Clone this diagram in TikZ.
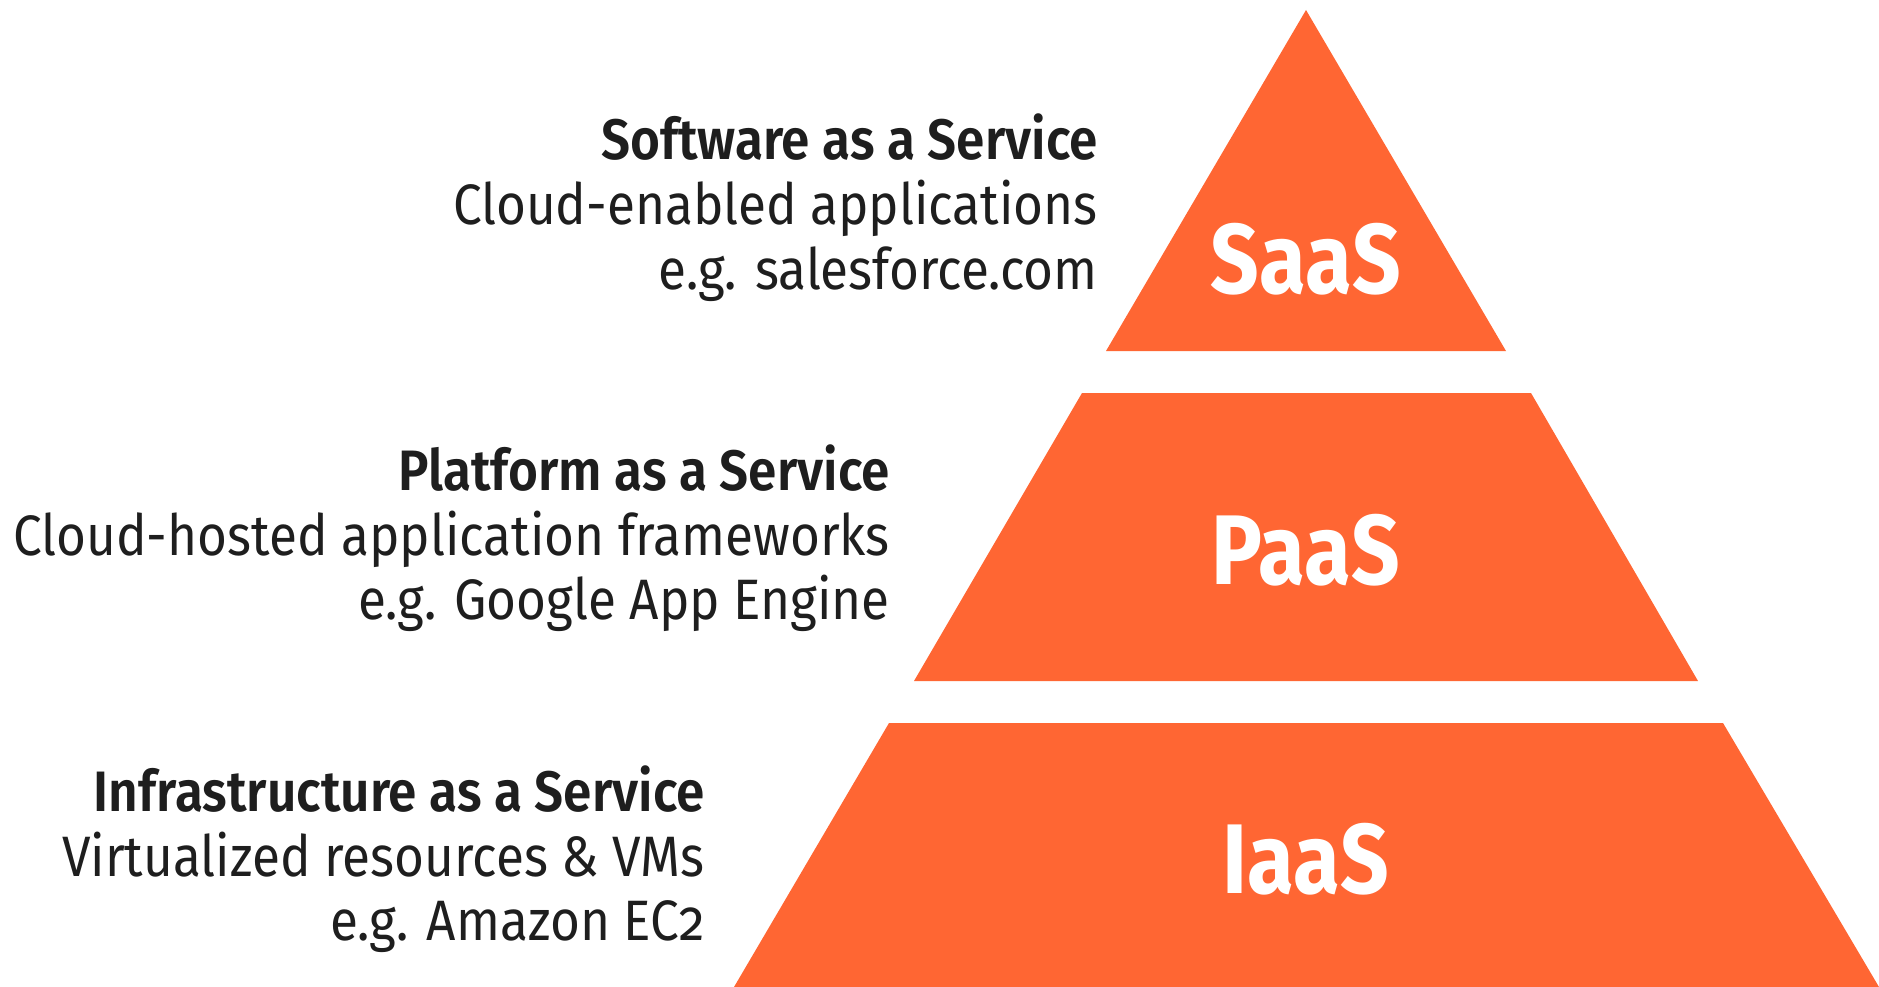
\documentclass[tikz,border=0pt]{standalone}
\usepackage{fontspec}
\setmainfont{Fira Sans}[Numbers=OldStyle, FakeStretch=0.90, BoldFont={Fira Sans SemiBold}]
\newfontfamily\tierfont{Fira Sans}[FakeStretch=0.86]
\definecolor{tierfill}{HTML}{FF6633}
\definecolor{inkdark}{HTML}{1E1E1E}
\tikzset{
  tier/.style={fill=tierfill, draw=none},
  tierlabel/.style={text=white, font=\tierfont\fontsize{99}{99}\selectfont\bfseries, anchor=base, inner sep=0pt},
  headline/.style={text=inkdark, font=\fontsize{57}{64}\selectfont\bfseries, anchor=base east, inner sep=0pt},
  bodyline/.style={text=inkdark, font=\fontsize{57}{64}\selectfont, anchor=base east, inner sep=0pt},
}
\begin{document}
\begin{tikzpicture}[x=1pt, y=-1pt]
\useasboundingbox (0,0) rectangle (1879,987);

% pyramid tiers
\fill[tier] (1306,10) -- (1506,351) -- (1106,351) -- cycle;
\fill[tier] (1082,393) -- (1531,393) -- (1698,681) -- (914,681) -- cycle;
\fill[tier] (889,723) -- (1723,723) -- (1879,987) -- (734,987) -- cycle;

% tier labels
\node[tierlabel] (saas) at (1306,293) {SaaS};
\node[tierlabel] (paas) at (1306,584) {PaaS};
\node[tierlabel] (iaas) at (1306,893) {IaaS};

% descriptions
\node[headline] (saasT) at (1098,160) {Software as a Service};
\node[bodyline] (saasD) at (1098,225) {Cloud-enabled applications};
\node[bodyline] (saasE) at (1098,289) {e.g. salesforce.com};

\node[headline] (paasT) at (890,490) {Platform as a Service};
\node[bodyline] (paasD) at (890,555) {Cloud-hosted application frameworks};
\node[bodyline] (paasE) at (890,619) {e.g. Google App Engine};

\node[headline] (iaasT) at (705,811) {Infrastructure as a Service};
\node[bodyline] (iaasD) at (705,876) {Virtualized resources \& VMs};
\node[bodyline] (iaasE) at (705,940) {e.g. Amazon EC2};
\end{tikzpicture}
\end{document}
